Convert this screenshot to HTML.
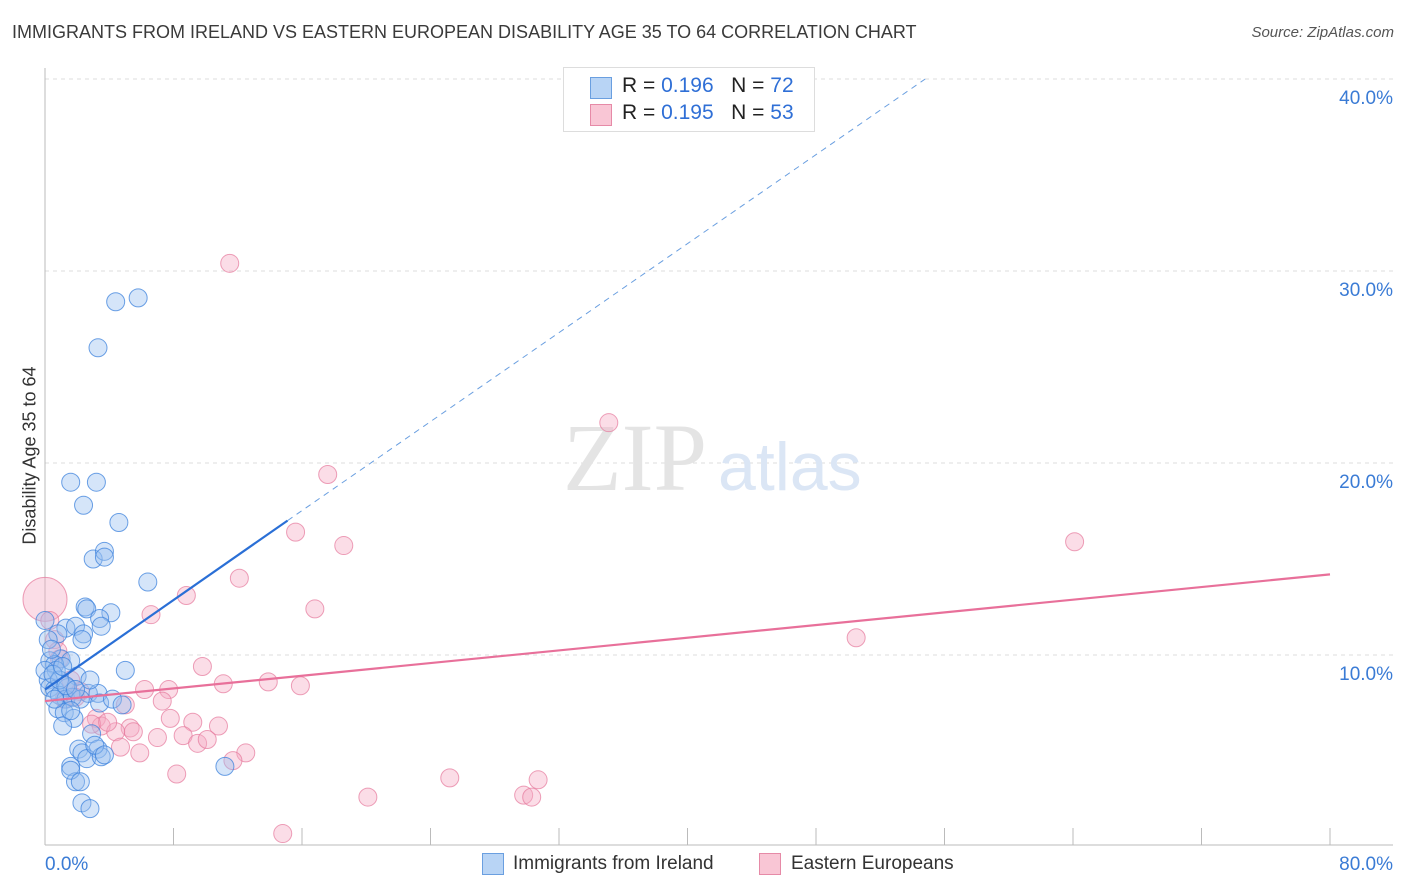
<!DOCTYPE html>
<html><head><meta charset="utf-8">
<style>
body{margin:0;background:#fff;font-family:"Liberation Sans",sans-serif;}
#wrap{position:relative;width:1406px;height:892px;overflow:hidden;}
.t{position:absolute;white-space:nowrap;}
</style></head>
<body>
<div id="wrap">
<div class="t" style="left:12px;top:22px;font-size:18px;color:#3a3a3a;">IMMIGRANTS FROM IRELAND VS EASTERN EUROPEAN DISABILITY AGE 35 TO 64 CORRELATION CHART</div>
<div class="t" style="right:12px;top:24px;font-size:15px;color:#555;font-style:italic;">Source: ZipAtlas.com</div>
<div class="t" style="left:-60px;top:445px;width:180px;text-align:center;font-size:18px;color:#333;transform:rotate(-90deg);">Disability Age 35 to 64</div>
<svg id="svg" width="1406" height="892" style="position:absolute;left:0;top:0"></svg>
<div style="position:absolute;left:563px;top:67px;width:250px;height:63px;border:1px solid #ddd;background:#fff;font-size:21px;color:#222;">
 <div style="position:absolute;left:26px;top:9px;width:20px;height:20px;background:#b8d4f5;border:1px solid #6a9fe0"></div>
 <div class="t" style="left:58px;top:6px">R = <span style="color:#2f6fd6">0.196</span>&nbsp;&nbsp;&nbsp;N = <span style="color:#2f6fd6">72</span></div>
 <div style="position:absolute;left:26px;top:36px;width:20px;height:20px;background:#f9c6d5;border:1px solid #e68aa7"></div>
 <div class="t" style="left:58px;top:33px">R = <span style="color:#2f6fd6">0.195</span>&nbsp;&nbsp;&nbsp;N = <span style="color:#2f6fd6">53</span></div>
</div>
<div style="position:absolute;left:482px;top:853px;font-size:19px;color:#333;">
 <div style="position:absolute;left:0;top:0;width:20px;height:20px;background:#b8d4f5;border:1px solid #6a9fe0"></div>
 <div class="t" style="left:31px;top:0">Immigrants from Ireland</div>
 <div style="position:absolute;left:277px;top:0;width:20px;height:20px;background:#f9c6d5;border:1px solid #e68aa7"></div>
 <div class="t" style="left:309px;top:0">Eastern Europeans</div>
</div>
</div>
<script>
const xTicks=[0,80];
const yTicks=[10,20,30,40];
const blueX=[5.8,4.4,3.3,1.6,3.2,2.4,4.6,3.0,3.7,3.7,6.4,2.5,2.6,4.1,3.4,3.5,1.3,1.9,0.8,2.4,2.3,5.0,1.0,1.6,0.3,0.6,0.7,2.0,0.2,0.3,0.6,1.4,0.9,1.3,1.7,2.7,3.3,2.2,3.4,4.2,4.8,0.8,1.2,1.8,1.1,2.9,2.1,3.3,2.3,2.6,3.5,1.6,1.9,1.6,2.2,2.3,2.8,11.2,0.0,0.2,0.4,0.0,0.9,1.3,0.6,2.8,1.6,3.1,3.7,1.9,0.5,1.1];
const blueY=[28.6,28.4,26.0,19.0,19.0,17.8,16.9,15.0,15.4,15.1,13.8,12.5,12.4,12.2,11.9,11.5,11.4,11.5,11.1,11.1,10.8,9.2,9.8,9.7,9.7,9.5,9.2,8.9,8.7,8.3,8.2,8.3,7.9,7.7,7.8,8.0,8.0,7.7,7.5,7.7,7.4,7.2,7.0,6.7,6.3,5.9,5.1,5.1,4.9,4.6,4.7,4.2,3.4,4.0,3.4,2.3,2.0,4.2,11.8,10.8,10.3,9.2,8.7,8.4,7.7,8.7,7.1,5.3,4.8,8.2,9.0,9.4];
const pinkX=[11.5,35.1,17.6,15.6,18.6,64.1,12.1,16.8,6.6,8.8,50.5,0.0,9.8,11.1,13.9,15.9,6.2,7.7,7.3,5.0,3.2,3.5,2.9,7.8,9.2,10.8,5.3,5.5,7.0,8.6,9.5,10.1,4.4,4.7,5.9,12.5,11.7,8.2,25.2,30.7,20.1,29.8,30.3,14.8,0.6,0.9,1.6,2.2,1.2,0.3,0.8,1.9,3.9];
const pinkY=[30.4,22.1,19.4,16.4,15.7,15.9,14.0,12.4,12.1,13.1,10.9,12.9,9.4,8.5,8.6,8.4,8.2,8.2,7.6,7.4,6.7,6.3,6.4,6.7,6.5,6.3,6.2,6.0,5.7,5.8,5.4,5.6,6.0,5.2,4.9,4.9,4.5,3.8,3.6,3.5,2.6,2.7,2.6,0.7,10.8,9.8,8.7,8.1,7.7,11.8,10.2,7.8,6.5];
const X=v=>45+v*(1285/80), Y=v=>847-v*19.2;
const svg=document.getElementById('svg'),NS='http://www.w3.org/2000/svg';
function mk(t,a){const e=document.createElementNS(NS,t);for(const k in a)e.setAttribute(k,a[k]);svg.appendChild(e);return e;}
yTicks.forEach(v=>{const l=mk('line',{x1:45,x2:1393,y1:Y(v),y2:Y(v),stroke:'#ddd','stroke-dasharray':'4,4'});


const t=mk('text',{x:1393,y:Y(v)+25,'text-anchor':'end','font-size':19,fill:'#3a7bd5','font-family':'Liberation Sans'});t.textContent=v.toFixed(1)+'%';

});
const ax=mk('line',{x1:45,x2:45,y1:68,y2:845,stroke:'#bbb'});


const bx=mk('line',{x1:45,x2:1393,y1:845,y2:845,stroke:'#bbb'});


for(let i=1;i<=10;i++){const tk=mk('line',{x1:X(i*8),x2:X(i*8),y1:828,y2:845,stroke:'#bbb'});

}
xTicks.forEach((v,i)=>{const t=mk('text',{x:i?1393:45,y:870,'text-anchor':i?'end':'start','font-size':19,fill:'#3a7bd5','font-family':'Liberation Sans'});t.textContent=v.toFixed(1)+'%';

});
const wm=mk('text',{x:635,y:490,'text-anchor':'middle','font-size':96,fill:'#e4e4e4','font-family':'Liberation Serif'});wm.textContent='ZIP';


const wm2=mk('text',{x:718,y:490,'font-size':68,fill:'#dbe6f5','font-family':'Liberation Sans'});wm2.textContent='atlas';


pinkX.forEach((x,i)=>{const c=mk('circle',{cx:X(x),cy:Y(pinkY[i]),r:i==11?22:9,fill:'rgba(246,170,195,0.4)',stroke:'rgba(230,120,155,0.7)','stroke-width':1});

});
blueX.forEach((x,i)=>{const c=mk('circle',{cx:X(x),cy:Y(blueY[i]),r:9,fill:'rgba(150,190,240,0.4)',stroke:'rgba(60,130,220,0.75)','stroke-width':1});

});
const b1=mk('line',{x1:X(0),y1:Y(8.2),x2:X(15.1),y2:Y(17.0),stroke:'#2a6fd6','stroke-width':2.2});


const b2=mk('line',{x1:X(15.1),y1:Y(17.0),x2:X(54.8),y2:Y(40),stroke:'#6a9fe0','stroke-width':1,'stroke-dasharray':'6,5'});


const p1=mk('line',{x1:X(0),y1:Y(7.6),x2:X(80),y2:Y(14.2),stroke:'#e8709a','stroke-width':2.2});


</script>
</body></html>
